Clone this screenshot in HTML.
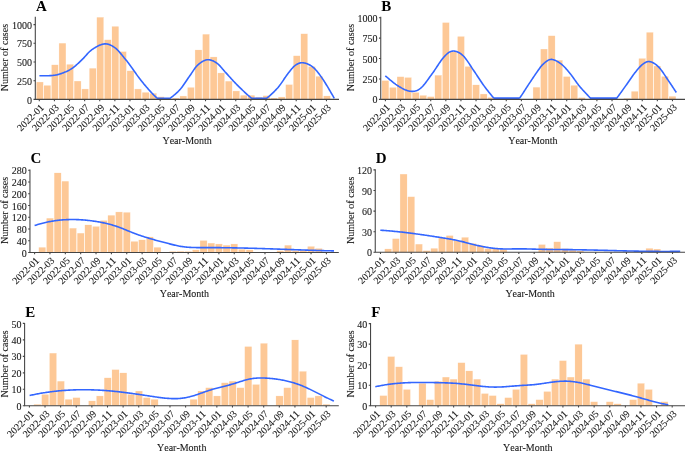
<!DOCTYPE html>
<html><head><meta charset="utf-8"><style>
html,body{margin:0;padding:0;background:#fff;width:685px;height:451px;overflow:hidden}
svg{display:block;font-family:"Liberation Serif",serif;font-kerning:none;will-change:transform}
</style></head><body><svg width="685" height="451" viewBox="0 0 685 451" font-family="Liberation Serif, serif"><g fill="#FDC896" stroke="#ffffff" stroke-width="0.3"><rect x="36.29" y="81.97" width="7.03" height="17.43"/><rect x="43.84" y="85.26" width="7.03" height="14.14"/><rect x="51.40" y="64.77" width="7.03" height="34.63"/><rect x="58.95" y="43.08" width="7.03" height="56.32"/><rect x="66.51" y="64.24" width="7.03" height="35.16"/><rect x="74.07" y="81.00" width="7.03" height="18.40"/><rect x="81.62" y="88.93" width="7.03" height="10.47"/><rect x="89.18" y="68.13" width="7.03" height="31.27"/><rect x="96.73" y="17.12" width="7.03" height="82.28"/><rect x="104.29" y="39.71" width="7.03" height="59.69"/><rect x="111.85" y="26.25" width="7.03" height="73.15"/><rect x="119.40" y="51.53" width="7.03" height="47.87"/><rect x="126.96" y="70.75" width="7.03" height="28.65"/><rect x="134.51" y="88.93" width="7.03" height="10.47"/><rect x="142.07" y="92.22" width="7.03" height="7.18"/><rect x="149.63" y="93.19" width="7.03" height="6.21"/><rect x="157.18" y="96.71" width="7.03" height="2.69"/><rect x="164.74" y="99.03" width="7.03" height="0.37"/><rect x="172.29" y="97.98" width="7.03" height="1.42"/><rect x="179.85" y="95.96" width="7.03" height="3.44"/><rect x="187.41" y="87.28" width="7.03" height="12.12"/><rect x="194.96" y="49.88" width="7.03" height="49.52"/><rect x="202.52" y="34.10" width="7.03" height="65.30"/><rect x="210.07" y="56.91" width="7.03" height="42.49"/><rect x="217.63" y="72.92" width="7.03" height="26.48"/><rect x="225.19" y="81.07" width="7.03" height="18.33"/><rect x="232.74" y="90.95" width="7.03" height="8.45"/><rect x="240.30" y="95.14" width="7.03" height="4.26"/><rect x="247.85" y="95.14" width="7.03" height="4.26"/><rect x="255.41" y="97.08" width="7.03" height="2.32"/><rect x="262.97" y="95.59" width="7.03" height="3.81"/><rect x="270.52" y="97.98" width="7.03" height="1.42"/><rect x="278.08" y="96.93" width="7.03" height="2.47"/><rect x="285.63" y="84.51" width="7.03" height="14.89"/><rect x="293.19" y="55.72" width="7.03" height="43.68"/><rect x="300.75" y="33.73" width="7.03" height="65.67"/><rect x="308.30" y="66.49" width="7.03" height="32.91"/><rect x="315.86" y="76.21" width="7.03" height="23.19"/><rect x="323.41" y="95.88" width="7.03" height="3.52"/></g><path d="M39.40,75.80 L39.68,75.79 L40.00,75.79 L40.36,75.78 L40.75,75.78 L41.18,75.78 L41.64,75.78 L42.12,75.78 L42.63,75.78 L43.16,75.77 L43.71,75.77 L44.28,75.77 L44.85,75.76 L45.45,75.76 L46.04,75.75 L46.65,75.74 L47.25,75.73 L47.86,75.72 L48.46,75.70 L49.06,75.68 L49.65,75.66 L50.23,75.64 L50.79,75.61 L51.34,75.58 L51.86,75.54 L52.37,75.50 L52.85,75.45 L53.30,75.40 L53.91,75.32 L54.50,75.24 L55.07,75.15 L55.62,75.05 L56.16,74.95 L56.68,74.85 L57.19,74.74 L57.69,74.62 L58.18,74.50 L58.66,74.37 L59.14,74.23 L59.61,74.09 L60.09,73.94 L60.56,73.78 L61.04,73.62 L61.52,73.45 L62.00,73.27 L62.50,73.09 L63.00,72.90 L63.51,72.70 L64.01,72.50 L64.52,72.30 L65.03,72.09 L65.53,71.88 L66.04,71.66 L66.54,71.43 L67.04,71.20 L67.55,70.95 L68.05,70.71 L68.56,70.45 L69.06,70.18 L69.56,69.90 L70.07,69.62 L70.57,69.32 L71.08,69.01 L71.59,68.68 L72.09,68.35 L72.60,68.00 L73.11,67.64 L73.62,67.26 L74.13,66.86 L74.64,66.45 L75.15,66.03 L75.66,65.60 L76.17,65.15 L76.68,64.70 L77.19,64.23 L77.71,63.76 L78.22,63.29 L78.73,62.81 L79.24,62.32 L79.75,61.84 L80.26,61.35 L80.77,60.86 L81.28,60.37 L81.79,59.88 L82.30,59.40 L82.80,58.91 L83.30,58.41 L83.79,57.89 L84.28,57.36 L84.76,56.83 L85.24,56.29 L85.72,55.74 L86.20,55.19 L86.68,54.65 L87.16,54.10 L87.65,53.57 L88.15,53.03 L88.65,52.51 L89.16,52.00 L89.68,51.51 L90.22,51.02 L90.76,50.56 L91.32,50.12 L91.90,49.70 L92.35,49.39 L92.81,49.08 L93.29,48.76 L93.77,48.45 L94.26,48.14 L94.76,47.83 L95.27,47.52 L95.78,47.22 L96.30,46.92 L96.82,46.63 L97.35,46.35 L97.88,46.08 L98.41,45.82 L98.94,45.57 L99.47,45.33 L99.99,45.11 L100.52,44.90 L101.04,44.71 L101.56,44.53 L102.07,44.38 L102.57,44.24 L103.07,44.12 L103.55,44.02 L104.03,43.95 L104.50,43.90 L105.05,43.87 L105.59,43.87 L106.12,43.89 L106.64,43.94 L107.16,44.01 L107.68,44.11 L108.19,44.23 L108.69,44.38 L109.19,44.54 L109.68,44.73 L110.18,44.93 L110.67,45.15 L111.15,45.39 L111.64,45.64 L112.12,45.91 L112.60,46.20 L113.08,46.50 L113.56,46.81 L114.04,47.13 L114.52,47.46 L115.00,47.80 L115.54,48.20 L116.08,48.65 L116.62,49.14 L117.17,49.66 L117.72,50.21 L118.27,50.78 L118.82,51.38 L119.37,51.99 L119.91,52.61 L120.44,53.23 L120.97,53.86 L121.48,54.49 L121.99,55.10 L122.48,55.71 L122.96,56.30 L123.42,56.87 L123.87,57.41 L124.29,57.92 L124.70,58.40 L125.39,59.20 L125.97,59.90 L126.47,60.51 L126.93,61.07 L127.35,61.62 L127.77,62.18 L128.23,62.79 L128.73,63.47 L129.31,64.27 L130.00,65.20 L130.41,65.75 L130.84,66.35 L131.29,66.98 L131.76,67.64 L132.24,68.32 L132.74,69.03 L133.25,69.76 L133.78,70.51 L134.31,71.27 L134.85,72.04 L135.40,72.81 L135.95,73.58 L136.49,74.35 L137.04,75.12 L137.59,75.87 L138.13,76.61 L138.66,77.33 L139.19,78.03 L139.70,78.70 L140.21,79.36 L140.72,80.02 L141.24,80.67 L141.76,81.32 L142.28,81.97 L142.80,82.61 L143.32,83.25 L143.84,83.89 L144.35,84.51 L144.87,85.13 L145.38,85.74 L145.89,86.34 L146.40,86.94 L146.90,87.52 L147.39,88.09 L147.88,88.65 L148.36,89.20 L148.84,89.73 L149.30,90.25 L149.88,90.89 L150.45,91.52 L151.01,92.13 L151.56,92.72 L152.11,93.30 L152.65,93.86 L153.18,94.41 L153.70,94.94 L154.22,95.46 L154.73,95.95 L155.23,96.44 L155.73,96.90 L156.23,97.35 L156.72,97.78 L157.20,98.20 L157.75,98.30 L158.28,98.30 L158.80,98.30 L159.31,98.30 L159.82,98.30 L160.31,98.30 L160.80,98.30 L161.29,98.30 L161.78,98.30 L162.27,98.30 L162.76,98.30 L163.25,98.30 L163.75,98.30 L164.24,98.30 L164.72,98.30 L165.19,98.30 L165.66,98.30 L166.12,98.30 L166.58,98.30 L167.05,98.30 L167.54,98.30 L168.04,98.30 L168.56,98.30 L169.11,98.30 L169.69,98.30 L170.30,98.20 L170.74,97.85 L171.20,97.48 L171.68,97.10 L172.17,96.71 L172.67,96.30 L173.19,95.89 L173.71,95.46 L174.25,95.01 L174.79,94.56 L175.33,94.09 L175.88,93.61 L176.43,93.11 L176.98,92.61 L177.53,92.09 L178.08,91.56 L178.62,91.01 L179.15,90.45 L179.68,89.88 L180.20,89.30 L180.71,88.69 L181.23,88.06 L181.75,87.40 L182.27,86.71 L182.79,86.00 L183.32,85.28 L183.84,84.54 L184.36,83.79 L184.87,83.04 L185.39,82.28 L185.90,81.52 L186.41,80.76 L186.91,80.01 L187.41,79.26 L187.90,78.53 L188.39,77.82 L188.87,77.12 L189.34,76.45 L189.80,75.80 L190.37,75.00 L190.92,74.20 L191.45,73.41 L191.96,72.63 L192.47,71.86 L192.96,71.10 L193.45,70.36 L193.95,69.64 L194.44,68.93 L194.93,68.24 L195.44,67.58 L195.95,66.94 L196.48,66.33 L197.03,65.75 L197.60,65.20 L198.06,64.78 L198.53,64.37 L199.01,63.96 L199.50,63.56 L200.00,63.17 L200.50,62.79 L201.00,62.43 L201.51,62.09 L202.02,61.76 L202.54,61.44 L203.06,61.15 L203.58,60.88 L204.10,60.64 L204.62,60.42 L205.14,60.22 L205.66,60.06 L206.18,59.92 L206.69,59.82 L207.20,59.75 L207.71,59.71 L208.22,59.71 L208.73,59.73 L209.25,59.78 L209.76,59.86 L210.28,59.97 L210.79,60.10 L211.31,60.25 L211.82,60.43 L212.34,60.63 L212.85,60.85 L213.37,61.09 L213.88,61.34 L214.39,61.62 L214.90,61.91 L215.40,62.21 L215.90,62.53 L216.40,62.86 L216.90,63.20 L217.42,63.58 L217.92,63.99 L218.42,64.42 L218.91,64.88 L219.40,65.36 L219.89,65.87 L220.37,66.39 L220.85,66.93 L221.33,67.48 L221.82,68.05 L222.31,68.64 L222.80,69.23 L223.31,69.83 L223.82,70.44 L224.35,71.05 L224.88,71.67 L225.43,72.28 L226.00,72.90 L226.45,73.39 L226.91,73.88 L227.37,74.39 L227.84,74.90 L228.31,75.43 L228.79,75.95 L229.27,76.49 L229.76,77.03 L230.25,77.57 L230.75,78.12 L231.25,78.68 L231.75,79.24 L232.26,79.79 L232.78,80.36 L233.30,80.92 L233.82,81.48 L234.35,82.05 L234.88,82.61 L235.41,83.17 L235.96,83.73 L236.50,84.29 L237.05,84.85 L237.60,85.40 L238.08,85.87 L238.57,86.36 L239.08,86.86 L239.59,87.36 L240.12,87.87 L240.65,88.39 L241.20,88.91 L241.74,89.43 L242.29,89.96 L242.85,90.49 L243.41,91.01 L243.96,91.53 L244.52,92.05 L245.07,92.57 L245.62,93.08 L246.17,93.58 L246.71,94.07 L247.24,94.55 L247.77,95.02 L248.28,95.48 L248.79,95.92 L249.28,96.35 L249.76,96.76 L250.22,97.15 L250.66,97.52 L251.09,97.87 L251.50,98.20 L252.19,98.30 L252.83,98.30 L253.43,98.30 L253.99,98.30 L254.51,98.30 L255.01,98.30 L255.48,98.30 L255.94,98.30 L256.39,98.30 L256.83,98.30 L257.27,98.30 L257.72,98.30 L258.18,98.30 L258.65,98.30 L259.15,98.30 L259.65,98.30 L260.14,98.30 L260.62,98.30 L261.09,98.30 L261.56,98.30 L262.03,98.30 L262.51,98.30 L262.99,98.30 L263.48,98.30 L263.98,98.30 L264.50,98.30 L265.04,98.30 L265.60,98.30 L266.18,98.30 L266.80,98.20 L267.24,97.85 L267.70,97.47 L268.17,97.08 L268.65,96.67 L269.15,96.24 L269.66,95.80 L270.18,95.34 L270.71,94.87 L271.24,94.38 L271.78,93.89 L272.32,93.38 L272.87,92.86 L273.41,92.34 L273.96,91.81 L274.50,91.27 L275.03,90.72 L275.57,90.17 L276.09,89.62 L276.61,89.07 L277.12,88.51 L277.62,87.96 L278.10,87.40 L278.65,86.74 L279.20,86.06 L279.74,85.36 L280.28,84.63 L280.82,83.89 L281.35,83.14 L281.88,82.38 L282.40,81.61 L282.92,80.85 L283.43,80.08 L283.94,79.32 L284.44,78.56 L284.94,77.82 L285.43,77.09 L285.92,76.38 L286.40,75.70 L286.87,75.03 L287.34,74.40 L287.80,73.80 L288.37,73.07 L288.93,72.36 L289.47,71.66 L290.00,70.99 L290.51,70.33 L291.02,69.70 L291.53,69.09 L292.02,68.51 L292.52,67.95 L293.01,67.42 L293.50,66.92 L293.99,66.44 L294.49,66.00 L294.99,65.58 L295.50,65.20 L296.01,64.85 L296.51,64.52 L297.01,64.22 L297.50,63.94 L297.99,63.69 L298.48,63.47 L298.98,63.28 L299.47,63.12 L299.98,62.98 L300.49,62.87 L301.00,62.80 L301.53,62.75 L302.07,62.74 L302.63,62.75 L303.20,62.80 L303.66,62.86 L304.14,62.93 L304.62,63.03 L305.11,63.14 L305.61,63.27 L306.12,63.41 L306.63,63.58 L307.15,63.76 L307.67,63.97 L308.19,64.19 L308.72,64.43 L309.25,64.69 L309.78,64.97 L310.30,65.28 L310.83,65.60 L311.35,65.94 L311.87,66.31 L312.39,66.69 L312.90,67.10 L313.40,67.53 L313.90,67.97 L314.40,68.44 L314.89,68.92 L315.38,69.43 L315.86,69.95 L316.35,70.49 L316.84,71.06 L317.32,71.64 L317.81,72.25 L318.31,72.88 L318.81,73.53 L319.31,74.20 L319.82,74.89 L320.34,75.61 L320.86,76.34 L321.40,77.11 L321.94,77.89 L322.50,78.70 L322.98,79.41 L323.49,80.18 L324.02,81.01 L324.57,81.88 L325.14,82.79 L325.72,83.74 L326.31,84.71 L326.91,85.70 L327.51,86.70 L328.11,87.71 L328.70,88.72 L329.29,89.72 L329.87,90.71 L330.44,91.68 L330.98,92.62 L331.51,93.52 L332.01,94.38 L332.48,95.20 L332.92,95.95 L333.33,96.65 L333.69,97.28 L334.02,97.83 L334.30,98.30" fill="none" stroke="#3366FF" stroke-width="1.6" stroke-linecap="butt" stroke-linejoin="round"/><path d="M35.30,16.70 V99.40 H339.00" fill="none" stroke="#444444" stroke-width="1.07"/><path d="M33.50,99.40H35.30M33.50,80.70H35.30M33.50,62.00H35.30M33.50,43.30H35.30M33.50,24.60H35.30M39.30,99.40V101.20M54.41,99.40V101.20M69.52,99.40V101.20M84.64,99.40V101.20M99.75,99.40V101.20M114.86,99.40V101.20M129.97,99.40V101.20M145.08,99.40V101.20M160.20,99.40V101.20M175.31,99.40V101.20M190.42,99.40V101.20M205.53,99.40V101.20M220.64,99.40V101.20M235.76,99.40V101.20M250.87,99.40V101.20M265.98,99.40V101.20M281.09,99.40V101.20M296.20,99.40V101.20M311.32,99.40V101.20M326.43,99.40V101.20" stroke="#444444" stroke-width="1.07" fill="none"/><g font-size="10" fill="#1a1a1a" stroke="#1a1a1a" stroke-width="0.1" text-anchor="end"><text x="32.10" y="103.50">0</text><text x="32.10" y="84.80">250</text><text x="32.10" y="66.10">500</text><text x="32.10" y="47.40">750</text><text x="32.10" y="28.70">1000</text></g><g font-size="10" fill="#1a1a1a" stroke="#1a1a1a" stroke-width="0.1" text-anchor="end"><text transform="translate(44.50,108.10) rotate(-45)">2022-01</text><text transform="translate(59.61,108.10) rotate(-45)">2022-03</text><text transform="translate(74.72,108.10) rotate(-45)">2022-05</text><text transform="translate(89.84,108.10) rotate(-45)">2022-07</text><text transform="translate(104.95,108.10) rotate(-45)">2022-09</text><text transform="translate(120.06,108.10) rotate(-45)">2022-11</text><text transform="translate(135.17,108.10) rotate(-45)">2023-01</text><text transform="translate(150.28,108.10) rotate(-45)">2023-03</text><text transform="translate(165.40,108.10) rotate(-45)">2023-05</text><text transform="translate(180.51,108.10) rotate(-45)">2023-07</text><text transform="translate(195.62,108.10) rotate(-45)">2023-09</text><text transform="translate(210.73,108.10) rotate(-45)">2023-11</text><text transform="translate(225.84,108.10) rotate(-45)">2024-01</text><text transform="translate(240.96,108.10) rotate(-45)">2024-03</text><text transform="translate(256.07,108.10) rotate(-45)">2024-05</text><text transform="translate(271.18,108.10) rotate(-45)">2024-07</text><text transform="translate(286.29,108.10) rotate(-45)">2024-09</text><text transform="translate(301.40,108.10) rotate(-45)">2024-11</text><text transform="translate(316.52,108.10) rotate(-45)">2025-01</text><text transform="translate(331.63,108.10) rotate(-45)">2025-03</text></g><text x="187.15" y="144.20" font-size="10" fill="#1a1a1a" stroke="#1a1a1a" stroke-width="0.1" text-anchor="middle">Year-Month</text><text transform="translate(8.00,57.55) rotate(-90)" font-size="10" fill="#1a1a1a" stroke="#1a1a1a" stroke-width="0.1" text-anchor="middle">Number of cases</text><text x="35.90" y="10.60" font-size="15" font-weight="bold" fill="#000">A</text><g fill="#FDC896" stroke="#ffffff" stroke-width="0.3"><rect x="381.89" y="80.50" width="7.03" height="18.85"/><rect x="389.44" y="87.35" width="7.03" height="12.00"/><rect x="397.00" y="76.67" width="7.03" height="22.68"/><rect x="404.55" y="77.40" width="7.03" height="21.95"/><rect x="412.10" y="92.33" width="7.03" height="7.02"/><rect x="419.66" y="95.27" width="7.03" height="4.08"/><rect x="427.21" y="96.58" width="7.03" height="2.77"/><rect x="434.77" y="75.11" width="7.03" height="24.24"/><rect x="442.32" y="22.48" width="7.03" height="76.87"/><rect x="449.87" y="51.86" width="7.03" height="47.49"/><rect x="457.43" y="36.35" width="7.03" height="63.00"/><rect x="464.98" y="66.38" width="7.03" height="32.97"/><rect x="472.54" y="84.83" width="7.03" height="14.52"/><rect x="480.09" y="93.96" width="7.03" height="5.39"/><rect x="487.64" y="97.39" width="7.03" height="1.96"/><rect x="532.97" y="87.11" width="7.03" height="12.24"/><rect x="540.52" y="49.00" width="7.03" height="50.35"/><rect x="548.08" y="35.70" width="7.03" height="63.65"/><rect x="555.63" y="60.10" width="7.03" height="39.25"/><rect x="563.18" y="76.50" width="7.03" height="22.85"/><rect x="570.74" y="85.23" width="7.03" height="14.12"/><rect x="578.29" y="97.55" width="7.03" height="1.80"/><rect x="623.62" y="98.29" width="7.03" height="1.06"/><rect x="631.17" y="91.19" width="7.03" height="8.16"/><rect x="638.72" y="58.31" width="7.03" height="41.04"/><rect x="646.28" y="32.19" width="7.03" height="67.16"/><rect x="653.83" y="65.98" width="7.03" height="33.37"/><rect x="661.39" y="76.34" width="7.03" height="23.01"/><rect x="668.94" y="96.17" width="7.03" height="3.18"/></g><path d="M385.30,75.80 L385.57,76.02 L385.88,76.28 L386.22,76.57 L386.60,76.89 L387.01,77.24 L387.44,77.61 L387.90,78.01 L388.39,78.43 L388.89,78.86 L389.42,79.31 L389.96,79.77 L390.51,80.24 L391.08,80.71 L391.65,81.18 L392.23,81.66 L392.81,82.13 L393.39,82.59 L393.98,83.04 L394.55,83.48 L395.13,83.91 L395.69,84.32 L396.24,84.70 L396.78,85.06 L397.30,85.40 L397.79,85.71 L398.29,86.02 L398.80,86.33 L399.30,86.64 L399.81,86.94 L400.33,87.25 L400.84,87.55 L401.36,87.84 L401.87,88.13 L402.39,88.41 L402.91,88.69 L403.43,88.95 L403.95,89.21 L404.46,89.45 L404.98,89.69 L405.49,89.91 L406.00,90.12 L406.50,90.31 L407.00,90.49 L407.50,90.66 L407.99,90.80 L408.48,90.93 L408.96,91.04 L409.43,91.13 L409.90,91.20 L410.45,91.26 L410.98,91.31 L411.51,91.34 L412.03,91.36 L412.54,91.36 L413.05,91.34 L413.54,91.31 L414.04,91.25 L414.53,91.17 L415.02,91.08 L415.51,90.96 L415.99,90.81 L416.48,90.64 L416.97,90.45 L417.46,90.23 L417.95,89.98 L418.45,89.70 L418.95,89.40 L419.46,89.06 L419.98,88.70 L420.50,88.30 L420.98,87.90 L421.47,87.47 L421.96,86.99 L422.46,86.49 L422.96,85.96 L423.46,85.39 L423.96,84.80 L424.46,84.19 L424.97,83.56 L425.48,82.90 L425.99,82.23 L426.50,81.55 L427.01,80.86 L427.52,80.15 L428.03,79.44 L428.54,78.73 L429.06,78.01 L429.57,77.29 L430.08,76.58 L430.58,75.87 L431.09,75.17 L431.60,74.48 L432.10,73.80 L432.60,73.12 L433.11,72.41 L433.62,71.68 L434.14,70.93 L434.65,70.17 L435.17,69.40 L435.69,68.62 L436.21,67.84 L436.73,67.05 L437.25,66.26 L437.76,65.48 L438.28,64.70 L438.79,63.93 L439.29,63.17 L439.80,62.43 L440.29,61.71 L440.79,61.01 L441.27,60.33 L441.76,59.68 L442.23,59.06 L442.69,58.47 L443.15,57.91 L443.60,57.40 L444.19,56.75 L444.76,56.13 L445.31,55.55 L445.84,55.00 L446.36,54.48 L446.87,54.00 L447.38,53.55 L447.87,53.14 L448.37,52.77 L448.86,52.43 L449.35,52.13 L449.85,51.86 L450.36,51.63 L450.87,51.44 L451.40,51.29 L451.94,51.18 L452.50,51.10 L452.99,51.07 L453.48,51.06 L453.97,51.07 L454.47,51.12 L454.98,51.19 L455.49,51.28 L456.00,51.41 L456.52,51.56 L457.04,51.73 L457.56,51.94 L458.09,52.17 L458.62,52.43 L459.15,52.71 L459.68,53.03 L460.22,53.37 L460.75,53.74 L461.29,54.14 L461.82,54.56 L462.36,55.02 L462.90,55.50 L463.39,55.98 L463.89,56.50 L464.39,57.06 L464.89,57.66 L465.40,58.29 L465.91,58.96 L466.43,59.65 L466.94,60.37 L467.46,61.10 L467.98,61.86 L468.49,62.62 L469.01,63.40 L469.52,64.19 L470.04,64.98 L470.55,65.77 L471.05,66.55 L471.56,67.33 L472.06,68.10 L472.55,68.85 L473.04,69.59 L473.52,70.31 L474.00,71.00 L474.54,71.79 L475.08,72.57 L475.61,73.36 L476.13,74.14 L476.65,74.92 L477.16,75.70 L477.67,76.47 L478.18,77.24 L478.68,78.01 L479.18,78.78 L479.68,79.53 L480.18,80.29 L480.68,81.04 L481.18,81.78 L481.68,82.52 L482.18,83.25 L482.68,83.97 L483.19,84.69 L483.70,85.40 L484.22,86.11 L484.74,86.82 L485.28,87.52 L485.81,88.23 L486.36,88.94 L486.90,89.64 L487.44,90.34 L487.99,91.03 L488.53,91.71 L489.07,92.39 L489.60,93.05 L490.13,93.70 L490.65,94.34 L491.15,94.96 L491.65,95.57 L492.14,96.15 L492.61,96.72 L493.06,97.27 L493.50,97.80 L494.11,98.10 L494.68,98.10 L495.22,98.10 L495.74,98.10 L496.24,98.10 L496.72,98.10 L497.18,98.10 L497.64,98.10 L498.10,98.10 L498.56,98.10 L499.03,98.10 L499.51,98.10 L500.00,98.10 L500.50,98.10 L501.01,98.10 L501.52,98.10 L502.03,98.10 L502.54,98.10 L503.05,98.10 L503.56,98.10 L504.07,98.10 L504.58,98.10 L505.09,98.10 L505.59,98.10 L506.10,98.10 L506.60,98.10 L507.14,98.10 L507.67,98.10 L508.20,98.10 L508.73,98.10 L509.26,98.10 L509.79,98.10 L510.32,98.10 L510.84,98.10 L511.38,98.10 L511.91,98.10 L512.45,98.10 L513.00,98.10 L513.51,98.10 L514.01,98.10 L514.51,98.10 L515.02,98.10 L515.52,98.10 L516.03,98.10 L516.54,98.10 L517.06,98.10 L517.59,98.10 L518.13,98.10 L518.67,98.10 L519.23,98.10 L519.80,97.80 L520.27,97.17 L520.75,96.51 L521.23,95.83 L521.72,95.11 L522.21,94.38 L522.71,93.62 L523.21,92.84 L523.72,92.05 L524.23,91.24 L524.75,90.42 L525.28,89.60 L525.81,88.76 L526.35,87.92 L526.89,87.08 L527.44,86.24 L528.00,85.40 L528.48,84.68 L528.98,83.93 L529.49,83.16 L530.01,82.37 L530.54,81.57 L531.09,80.75 L531.63,79.93 L532.18,79.11 L532.73,78.29 L533.27,77.47 L533.81,76.66 L534.35,75.86 L534.87,75.08 L535.39,74.33 L535.89,73.59 L536.37,72.89 L536.84,72.22 L537.28,71.59 L537.70,71.00 L538.37,70.06 L538.97,69.21 L539.51,68.44 L540.02,67.73 L540.49,67.08 L540.95,66.48 L541.42,65.91 L541.89,65.37 L542.38,64.84 L542.92,64.32 L543.50,63.80 L543.95,63.41 L544.42,63.01 L544.89,62.60 L545.36,62.20 L545.85,61.80 L546.35,61.42 L546.85,61.05 L547.36,60.71 L547.88,60.39 L548.41,60.11 L548.95,59.87 L549.50,59.67 L550.06,59.52 L550.62,59.43 L551.20,59.40 L551.66,59.42 L552.14,59.47 L552.63,59.55 L553.12,59.66 L553.63,59.80 L554.14,59.96 L554.65,60.15 L555.17,60.36 L555.70,60.60 L556.23,60.86 L556.76,61.13 L557.28,61.42 L557.81,61.73 L558.34,62.05 L558.86,62.38 L559.38,62.72 L559.89,63.07 L560.40,63.43 L560.90,63.80 L561.42,64.20 L561.93,64.62 L562.45,65.06 L562.95,65.52 L563.46,66.00 L563.96,66.49 L564.46,67.00 L564.96,67.53 L565.46,68.07 L565.95,68.62 L566.45,69.18 L566.95,69.76 L567.45,70.35 L567.96,70.94 L568.46,71.55 L568.97,72.16 L569.48,72.78 L570.00,73.40 L570.49,74.00 L570.98,74.63 L571.47,75.27 L571.97,75.93 L572.46,76.60 L572.95,77.28 L573.45,77.97 L573.94,78.67 L574.44,79.38 L574.94,80.09 L575.44,80.80 L575.95,81.52 L576.46,82.23 L576.97,82.94 L577.49,83.64 L578.01,84.33 L578.53,85.02 L579.06,85.69 L579.60,86.35 L580.09,86.94 L580.60,87.54 L581.12,88.14 L581.65,88.74 L582.19,89.33 L582.73,89.93 L583.28,90.53 L583.84,91.13 L584.39,91.72 L584.94,92.31 L585.49,92.89 L586.04,93.46 L586.57,94.03 L587.11,94.59 L587.63,95.14 L588.14,95.68 L588.63,96.21 L589.11,96.73 L589.58,97.23 L590.02,97.72 L590.45,98.10 L591.09,98.10 L591.70,98.10 L592.26,98.10 L592.78,98.10 L593.28,98.10 L593.76,98.10 L594.23,98.10 L594.68,98.10 L595.13,98.10 L595.58,98.10 L596.04,98.10 L596.51,98.10 L597.00,98.10 L597.50,98.10 L598.00,98.10 L598.50,98.10 L599.00,98.10 L599.50,98.10 L600.00,98.10 L600.50,98.10 L601.00,98.10 L601.50,98.10 L602.00,98.10 L602.50,98.10 L603.00,98.10 L603.50,98.10 L604.00,98.10 L604.50,98.10 L605.00,98.10 L605.49,98.10 L605.99,98.10 L606.49,98.10 L606.99,98.10 L607.49,98.10 L607.99,98.10 L608.49,98.10 L608.99,98.10 L609.49,98.10 L610.00,98.10 L610.50,98.10 L610.99,98.10 L611.48,98.10 L611.96,98.10 L612.44,98.10 L612.93,98.10 L613.42,98.10 L613.92,98.10 L614.44,98.10 L614.97,98.10 L615.52,98.10 L616.10,98.10 L616.70,98.10 L617.15,97.61 L617.62,97.00 L618.10,96.36 L618.59,95.71 L619.09,95.03 L619.60,94.33 L620.11,93.62 L620.64,92.89 L621.17,92.16 L621.70,91.41 L622.24,90.66 L622.78,89.90 L623.32,89.15 L623.86,88.39 L624.40,87.63 L624.94,86.88 L625.47,86.14 L626.00,85.40 L626.50,84.70 L627.01,83.98 L627.52,83.25 L628.03,82.51 L628.55,81.76 L629.07,81.00 L629.60,80.25 L630.12,79.49 L630.64,78.73 L631.16,77.98 L631.68,77.24 L632.19,76.51 L632.70,75.79 L633.20,75.08 L633.70,74.40 L634.19,73.74 L634.67,73.10 L635.14,72.48 L635.60,71.90 L636.17,71.19 L636.73,70.50 L637.28,69.84 L637.81,69.20 L638.34,68.58 L638.86,67.98 L639.37,67.41 L639.88,66.87 L640.38,66.35 L640.87,65.86 L641.36,65.39 L641.85,64.95 L642.33,64.54 L642.82,64.15 L643.30,63.80 L643.85,63.42 L644.38,63.07 L644.89,62.75 L645.40,62.47 L645.90,62.21 L646.39,62.00 L646.89,61.82 L647.39,61.69 L647.90,61.60 L648.42,61.55 L648.96,61.55 L649.52,61.60 L650.10,61.70 L650.56,61.81 L651.03,61.94 L651.50,62.10 L651.99,62.28 L652.48,62.49 L652.98,62.73 L653.48,62.99 L653.99,63.27 L654.51,63.58 L655.02,63.93 L655.55,64.29 L656.08,64.69 L656.61,65.11 L657.14,65.57 L657.68,66.05 L658.21,66.56 L658.75,67.10 L659.24,67.62 L659.73,68.19 L660.24,68.79 L660.75,69.44 L661.26,70.11 L661.78,70.82 L662.31,71.55 L662.83,72.29 L663.36,73.06 L663.88,73.83 L664.41,74.61 L664.93,75.40 L665.45,76.18 L665.96,76.96 L666.47,77.72 L666.96,78.47 L667.45,79.21 L667.93,79.92 L668.40,80.60 L668.99,81.46 L669.60,82.36 L670.22,83.27 L670.84,84.20 L671.46,85.13 L672.07,86.05 L672.66,86.95 L673.24,87.83 L673.79,88.67 L674.32,89.47 L674.81,90.22 L675.25,90.91 L675.66,91.52 L676.01,92.06 L676.30,92.50" fill="none" stroke="#3366FF" stroke-width="1.6" stroke-linecap="butt" stroke-linejoin="round"/><path d="M380.75,16.80 V99.35 H686.00" fill="none" stroke="#444444" stroke-width="1.07"/><path d="M378.95,99.35H380.75M378.95,78.95H380.75M378.95,58.55H380.75M378.95,38.15H380.75M378.95,17.75H380.75M385.40,99.35V101.15M400.51,99.35V101.15M415.62,99.35V101.15M430.72,99.35V101.15M445.83,99.35V101.15M460.94,99.35V101.15M476.05,99.35V101.15M491.16,99.35V101.15M506.26,99.35V101.15M521.37,99.35V101.15M536.48,99.35V101.15M551.59,99.35V101.15M566.70,99.35V101.15M581.80,99.35V101.15M596.91,99.35V101.15M612.02,99.35V101.15M627.13,99.35V101.15M642.24,99.35V101.15M657.34,99.35V101.15M672.45,99.35V101.15" stroke="#444444" stroke-width="1.07" fill="none"/><g font-size="10" fill="#1a1a1a" stroke="#1a1a1a" stroke-width="0.1" text-anchor="end"><text x="377.55" y="103.45">0</text><text x="377.55" y="83.05">250</text><text x="377.55" y="62.65">500</text><text x="377.55" y="42.25">750</text><text x="377.55" y="21.85">1000</text></g><g font-size="10" fill="#1a1a1a" stroke="#1a1a1a" stroke-width="0.1" text-anchor="end"><text transform="translate(390.60,108.05) rotate(-45)">2022-01</text><text transform="translate(405.71,108.05) rotate(-45)">2022-03</text><text transform="translate(420.82,108.05) rotate(-45)">2022-05</text><text transform="translate(435.92,108.05) rotate(-45)">2022-07</text><text transform="translate(451.03,108.05) rotate(-45)">2022-09</text><text transform="translate(466.14,108.05) rotate(-45)">2022-11</text><text transform="translate(481.25,108.05) rotate(-45)">2023-01</text><text transform="translate(496.36,108.05) rotate(-45)">2023-03</text><text transform="translate(511.46,108.05) rotate(-45)">2023-05</text><text transform="translate(526.57,108.05) rotate(-45)">2023-07</text><text transform="translate(541.68,108.05) rotate(-45)">2023-09</text><text transform="translate(556.79,108.05) rotate(-45)">2023-11</text><text transform="translate(571.90,108.05) rotate(-45)">2024-01</text><text transform="translate(587.00,108.05) rotate(-45)">2024-03</text><text transform="translate(602.11,108.05) rotate(-45)">2024-05</text><text transform="translate(617.22,108.05) rotate(-45)">2024-07</text><text transform="translate(632.33,108.05) rotate(-45)">2024-09</text><text transform="translate(647.44,108.05) rotate(-45)">2024-11</text><text transform="translate(662.54,108.05) rotate(-45)">2025-01</text><text transform="translate(677.65,108.05) rotate(-45)">2025-03</text></g><text x="532.88" y="144.15" font-size="10" fill="#1a1a1a" stroke="#1a1a1a" stroke-width="0.1" text-anchor="middle">Year-Month</text><text transform="translate(353.50,57.57) rotate(-90)" font-size="10" fill="#1a1a1a" stroke="#1a1a1a" stroke-width="0.1" text-anchor="middle">Number of cases</text><text x="381.35" y="10.70" font-size="15" font-weight="bold" fill="#000">B</text><g fill="#FDC896" stroke="#ffffff" stroke-width="0.3"><rect x="38.71" y="247.16" width="7.14" height="5.29"/><rect x="46.39" y="218.08" width="7.14" height="34.37"/><rect x="54.07" y="172.84" width="7.14" height="79.61"/><rect x="61.75" y="181.07" width="7.14" height="71.38"/><rect x="69.42" y="228.07" width="7.14" height="24.38"/><rect x="77.10" y="233.06" width="7.14" height="19.39"/><rect x="84.78" y="224.84" width="7.14" height="27.61"/><rect x="92.46" y="226.31" width="7.14" height="26.14"/><rect x="100.14" y="220.43" width="7.14" height="32.02"/><rect x="107.82" y="215.14" width="7.14" height="37.31"/><rect x="115.50" y="211.91" width="7.14" height="40.54"/><rect x="123.18" y="212.21" width="7.14" height="40.24"/><rect x="130.86" y="241.29" width="7.14" height="11.16"/><rect x="138.54" y="239.82" width="7.14" height="12.63"/><rect x="146.21" y="236.88" width="7.14" height="15.57"/><rect x="153.89" y="247.16" width="7.14" height="5.29"/><rect x="169.25" y="251.27" width="7.14" height="1.18"/><rect x="176.93" y="251.13" width="7.14" height="1.32"/><rect x="184.61" y="251.27" width="7.14" height="1.18"/><rect x="192.29" y="249.81" width="7.14" height="2.64"/><rect x="199.97" y="240.41" width="7.14" height="12.04"/><rect x="207.65" y="243.05" width="7.14" height="9.40"/><rect x="215.33" y="243.93" width="7.14" height="8.52"/><rect x="223.00" y="245.11" width="7.14" height="7.34"/><rect x="230.68" y="243.93" width="7.14" height="8.52"/><rect x="238.36" y="249.22" width="7.14" height="3.23"/><rect x="246.04" y="249.81" width="7.14" height="2.64"/><rect x="276.76" y="250.69" width="7.14" height="1.76"/><rect x="284.44" y="245.11" width="7.14" height="7.34"/><rect x="292.12" y="250.69" width="7.14" height="1.76"/><rect x="299.79" y="250.39" width="7.14" height="2.06"/><rect x="307.47" y="246.28" width="7.14" height="6.17"/><rect x="315.15" y="248.34" width="7.14" height="4.11"/></g><path d="M34.60,225.57 L35.60,225.24 L36.60,224.91 L37.60,224.60 L38.60,224.30 L39.60,224.01 L40.60,223.73 L41.60,223.45 L42.60,223.19 L43.60,222.94 L44.60,222.70 L45.60,222.46 L46.60,222.24 L47.60,222.03 L48.60,221.82 L49.60,221.63 L50.60,221.44 L51.60,221.26 L52.60,221.09 L53.60,220.93 L54.60,220.78 L55.60,220.64 L56.60,220.51 L57.60,220.39 L58.60,220.27 L59.60,220.16 L60.60,220.07 L61.60,219.98 L62.60,219.90 L63.60,219.82 L64.60,219.76 L65.60,219.70 L66.60,219.65 L67.60,219.61 L68.60,219.58 L69.60,219.55 L70.60,219.53 L71.60,219.53 L72.60,219.52 L73.60,219.53 L74.60,219.54 L75.60,219.56 L76.60,219.59 L77.60,219.62 L78.60,219.67 L79.60,219.72 L80.60,219.77 L81.60,219.83 L82.60,219.90 L83.60,219.98 L84.60,220.06 L85.60,220.15 L86.60,220.25 L87.60,220.35 L88.60,220.46 L89.60,220.58 L90.60,220.70 L91.60,220.83 L92.60,220.97 L93.60,221.11 L94.60,221.25 L95.60,221.41 L96.60,221.56 L97.60,221.73 L98.60,221.90 L99.60,222.08 L100.60,222.26 L101.60,222.45 L102.60,222.65 L103.60,222.86 L104.60,223.07 L105.60,223.30 L106.60,223.53 L107.60,223.77 L108.60,224.02 L109.60,224.28 L110.60,224.55 L111.60,224.82 L112.60,225.11 L113.60,225.41 L114.60,225.72 L115.60,226.04 L116.60,226.37 L117.60,226.71 L118.60,227.07 L119.60,227.43 L120.60,227.81 L121.60,228.20 L122.60,228.60 L123.60,229.01 L124.60,229.42 L125.60,229.83 L126.60,230.24 L127.60,230.66 L128.60,231.07 L129.60,231.47 L130.60,231.87 L131.60,232.26 L132.60,232.65 L133.60,233.04 L134.60,233.42 L135.60,233.79 L136.60,234.16 L137.60,234.52 L138.60,234.88 L139.60,235.23 L140.60,235.58 L141.60,235.92 L142.60,236.25 L143.60,236.58 L144.60,236.90 L145.60,237.22 L146.60,237.53 L147.60,237.84 L148.60,238.14 L149.60,238.44 L150.60,238.73 L151.60,239.02 L152.60,239.31 L153.60,239.59 L154.60,239.87 L155.60,240.15 L156.60,240.42 L157.60,240.69 L158.60,240.96 L159.60,241.23 L160.60,241.50 L161.60,241.76 L162.60,242.02 L163.60,242.29 L164.60,242.55 L165.60,242.81 L166.60,243.07 L167.60,243.33 L168.60,243.59 L169.60,243.86 L170.60,244.11 L171.60,244.37 L172.60,244.62 L173.60,244.87 L174.60,245.11 L175.60,245.34 L176.60,245.56 L177.60,245.77 L178.60,245.98 L179.60,246.17 L180.60,246.34 L181.60,246.50 L182.60,246.65 L183.60,246.78 L184.60,246.91 L185.60,247.01 L186.60,247.11 L187.60,247.20 L188.60,247.27 L189.60,247.34 L190.60,247.40 L191.60,247.44 L192.60,247.49 L193.60,247.52 L194.60,247.55 L195.60,247.57 L196.60,247.58 L197.60,247.60 L198.60,247.60 L199.60,247.61 L200.60,247.61 L201.60,247.61 L202.60,247.61 L203.60,247.61 L204.60,247.60 L205.60,247.60 L206.60,247.60 L207.60,247.60 L208.60,247.60 L209.60,247.60 L210.60,247.61 L211.60,247.61 L212.60,247.61 L213.60,247.62 L214.60,247.62 L215.60,247.63 L216.60,247.64 L217.60,247.64 L218.60,247.65 L219.60,247.66 L220.60,247.67 L221.60,247.68 L222.60,247.69 L223.60,247.70 L224.60,247.72 L225.60,247.73 L226.60,247.74 L227.60,247.76 L228.60,247.77 L229.60,247.79 L230.60,247.80 L231.60,247.82 L232.60,247.84 L233.60,247.86 L234.60,247.87 L235.60,247.89 L236.60,247.91 L237.60,247.93 L238.60,247.95 L239.60,247.98 L240.60,248.00 L241.60,248.02 L242.60,248.04 L243.60,248.07 L244.60,248.09 L245.60,248.11 L246.60,248.14 L247.60,248.16 L248.60,248.19 L249.60,248.22 L250.60,248.24 L251.60,248.27 L252.60,248.30 L253.60,248.32 L254.60,248.35 L255.60,248.38 L256.60,248.41 L257.60,248.44 L258.60,248.47 L259.60,248.50 L260.60,248.53 L261.60,248.56 L262.60,248.59 L263.60,248.62 L264.60,248.65 L265.60,248.69 L266.60,248.72 L267.60,248.75 L268.60,248.78 L269.60,248.82 L270.60,248.85 L271.60,248.88 L272.60,248.92 L273.60,248.95 L274.60,248.99 L275.60,249.02 L276.60,249.06 L277.60,249.09 L278.60,249.13 L279.60,249.16 L280.60,249.20 L281.60,249.23 L282.60,249.27 L283.60,249.31 L284.60,249.34 L285.60,249.38 L286.60,249.41 L287.60,249.45 L288.60,249.49 L289.60,249.52 L290.60,249.56 L291.60,249.60 L292.60,249.63 L293.60,249.67 L294.60,249.71 L295.60,249.74 L296.60,249.78 L297.60,249.81 L298.60,249.85 L299.60,249.89 L300.60,249.92 L301.60,249.96 L302.60,249.99 L303.60,250.03 L304.60,250.06 L305.60,250.10 L306.60,250.13 L307.60,250.17 L308.60,250.20 L309.60,250.23 L310.60,250.27 L311.60,250.30 L312.60,250.33 L313.60,250.36 L314.60,250.39 L315.60,250.42 L316.60,250.45 L317.60,250.48 L318.60,250.51 L319.60,250.54 L320.60,250.57 L321.60,250.60 L322.60,250.63 L323.60,250.65 L324.60,250.68 L325.60,250.71 L326.60,250.73 L327.60,250.76 L328.60,250.78 L329.60,250.80 L330.60,250.82 L331.60,250.85 L332.60,250.87 L333.60,250.89 L334.00,250.89" fill="none" stroke="#3366FF" stroke-width="1.6" stroke-linecap="butt" stroke-linejoin="round"/><path d="M29.95,169.50 V252.45 H338.80" fill="none" stroke="#444444" stroke-width="1.07"/><path d="M28.15,252.45H29.95M28.15,240.70H29.95M28.15,228.95H29.95M28.15,217.20H29.95M28.15,205.45H29.95M28.15,193.70H29.95M28.15,181.95H29.95M28.15,170.20H29.95M34.60,252.45V254.25M49.96,252.45V254.25M65.32,252.45V254.25M80.67,252.45V254.25M96.03,252.45V254.25M111.39,252.45V254.25M126.75,252.45V254.25M142.11,252.45V254.25M157.46,252.45V254.25M172.82,252.45V254.25M188.18,252.45V254.25M203.54,252.45V254.25M218.90,252.45V254.25M234.25,252.45V254.25M249.61,252.45V254.25M264.97,252.45V254.25M280.33,252.45V254.25M295.69,252.45V254.25M311.04,252.45V254.25M326.40,252.45V254.25" stroke="#444444" stroke-width="1.07" fill="none"/><g font-size="10" fill="#1a1a1a" stroke="#1a1a1a" stroke-width="0.1" text-anchor="end"><text x="26.75" y="256.55">0</text><text x="26.75" y="244.80">40</text><text x="26.75" y="233.05">80</text><text x="26.75" y="221.30">120</text><text x="26.75" y="209.55">160</text><text x="26.75" y="197.80">200</text><text x="26.75" y="186.05">240</text><text x="26.75" y="174.30">280</text></g><g font-size="10" fill="#1a1a1a" stroke="#1a1a1a" stroke-width="0.1" text-anchor="end"><text transform="translate(39.80,261.15) rotate(-45)">2022-01</text><text transform="translate(55.16,261.15) rotate(-45)">2022-03</text><text transform="translate(70.52,261.15) rotate(-45)">2022-05</text><text transform="translate(85.87,261.15) rotate(-45)">2022-07</text><text transform="translate(101.23,261.15) rotate(-45)">2022-09</text><text transform="translate(116.59,261.15) rotate(-45)">2022-11</text><text transform="translate(131.95,261.15) rotate(-45)">2023-01</text><text transform="translate(147.31,261.15) rotate(-45)">2023-03</text><text transform="translate(162.66,261.15) rotate(-45)">2023-05</text><text transform="translate(178.02,261.15) rotate(-45)">2023-07</text><text transform="translate(193.38,261.15) rotate(-45)">2023-09</text><text transform="translate(208.74,261.15) rotate(-45)">2023-11</text><text transform="translate(224.10,261.15) rotate(-45)">2024-01</text><text transform="translate(239.45,261.15) rotate(-45)">2024-03</text><text transform="translate(254.81,261.15) rotate(-45)">2024-05</text><text transform="translate(270.17,261.15) rotate(-45)">2024-07</text><text transform="translate(285.53,261.15) rotate(-45)">2024-09</text><text transform="translate(300.89,261.15) rotate(-45)">2024-11</text><text transform="translate(316.24,261.15) rotate(-45)">2025-01</text><text transform="translate(331.60,261.15) rotate(-45)">2025-03</text></g><text x="184.38" y="297.25" font-size="10" fill="#1a1a1a" stroke="#1a1a1a" stroke-width="0.1" text-anchor="middle">Year-Month</text><text transform="translate(8.00,210.47) rotate(-90)" font-size="10" fill="#1a1a1a" stroke="#1a1a1a" stroke-width="0.1" text-anchor="middle">Number of cases</text><text x="30.55" y="163.40" font-size="15" font-weight="bold" fill="#000">C</text><g fill="#FDC896" stroke="#ffffff" stroke-width="0.3"><rect x="384.61" y="248.87" width="7.15" height="3.43"/><rect x="392.30" y="238.57" width="7.15" height="13.73"/><rect x="399.98" y="174.02" width="7.15" height="78.28"/><rect x="407.67" y="196.68" width="7.15" height="55.62"/><rect x="415.35" y="244.06" width="7.15" height="8.24"/><rect x="423.04" y="250.58" width="7.15" height="1.72"/><rect x="430.72" y="248.18" width="7.15" height="4.12"/><rect x="438.41" y="237.88" width="7.15" height="14.42"/><rect x="446.09" y="235.48" width="7.15" height="16.82"/><rect x="453.78" y="240.63" width="7.15" height="11.67"/><rect x="461.46" y="237.19" width="7.15" height="15.11"/><rect x="469.15" y="243.37" width="7.15" height="8.93"/><rect x="476.83" y="245.43" width="7.15" height="6.87"/><rect x="484.52" y="248.52" width="7.15" height="3.78"/><rect x="492.20" y="248.52" width="7.15" height="3.78"/><rect x="499.89" y="249.28" width="7.15" height="3.02"/><rect x="538.31" y="244.47" width="7.15" height="7.83"/><rect x="546.00" y="247.97" width="7.15" height="4.33"/><rect x="553.68" y="241.73" width="7.15" height="10.57"/><rect x="561.37" y="248.52" width="7.15" height="3.78"/><rect x="569.05" y="250.10" width="7.15" height="2.20"/><rect x="576.74" y="250.93" width="7.15" height="1.37"/><rect x="645.90" y="248.18" width="7.15" height="4.12"/><rect x="653.59" y="249.00" width="7.15" height="3.30"/></g><path d="M380.30,230.21 L381.30,230.27 L382.30,230.34 L383.30,230.41 L384.30,230.48 L385.30,230.55 L386.30,230.63 L387.30,230.71 L388.30,230.79 L389.30,230.88 L390.30,230.96 L391.30,231.05 L392.30,231.14 L393.30,231.23 L394.30,231.33 L395.30,231.43 L396.30,231.53 L397.30,231.63 L398.30,231.73 L399.30,231.84 L400.30,231.95 L401.30,232.06 L402.30,232.17 L403.30,232.28 L404.30,232.40 L405.30,232.52 L406.30,232.63 L407.30,232.76 L408.30,232.88 L409.30,233.00 L410.30,233.13 L411.30,233.26 L412.30,233.38 L413.30,233.52 L414.30,233.65 L415.30,233.78 L416.30,233.92 L417.30,234.05 L418.30,234.19 L419.30,234.33 L420.30,234.47 L421.30,234.61 L422.30,234.75 L423.30,234.90 L424.30,235.04 L425.30,235.19 L426.30,235.33 L427.30,235.48 L428.30,235.63 L429.30,235.78 L430.30,235.93 L431.30,236.08 L432.30,236.24 L433.30,236.39 L434.30,236.54 L435.30,236.70 L436.30,236.85 L437.30,237.01 L438.30,237.16 L439.30,237.32 L440.30,237.48 L441.30,237.63 L442.30,237.79 L443.30,237.95 L444.30,238.11 L445.30,238.28 L446.30,238.44 L447.30,238.61 L448.30,238.78 L449.30,238.95 L450.30,239.13 L451.30,239.31 L452.30,239.49 L453.30,239.68 L454.30,239.87 L455.30,240.07 L456.30,240.28 L457.30,240.49 L458.30,240.70 L459.30,240.93 L460.30,241.16 L461.30,241.39 L462.30,241.64 L463.30,241.89 L464.30,242.14 L465.30,242.40 L466.30,242.66 L467.30,242.92 L468.30,243.18 L469.30,243.44 L470.30,243.70 L471.30,243.96 L472.30,244.21 L473.30,244.46 L474.30,244.71 L475.30,244.95 L476.30,245.19 L477.30,245.42 L478.30,245.65 L479.30,245.87 L480.30,246.09 L481.30,246.30 L482.30,246.50 L483.30,246.70 L484.30,246.89 L485.30,247.07 L486.30,247.25 L487.30,247.41 L488.30,247.57 L489.30,247.73 L490.30,247.87 L491.30,248.01 L492.30,248.14 L493.30,248.26 L494.30,248.37 L495.30,248.47 L496.30,248.56 L497.30,248.64 L498.30,248.72 L499.30,248.78 L500.30,248.83 L501.30,248.87 L502.30,248.91 L503.30,248.93 L504.30,248.95 L505.30,248.96 L506.30,248.97 L507.30,248.97 L508.30,248.96 L509.30,248.95 L510.30,248.94 L511.30,248.93 L512.30,248.92 L513.30,248.90 L514.30,248.89 L515.30,248.87 L516.30,248.86 L517.30,248.85 L518.30,248.84 L519.30,248.84 L520.30,248.84 L521.30,248.85 L522.30,248.86 L523.30,248.87 L524.30,248.88 L525.30,248.90 L526.30,248.92 L527.30,248.94 L528.30,248.97 L529.30,249.00 L530.30,249.02 L531.30,249.05 L532.30,249.08 L533.30,249.11 L534.30,249.14 L535.30,249.17 L536.30,249.20 L537.30,249.23 L538.30,249.25 L539.30,249.28 L540.30,249.30 L541.30,249.32 L542.30,249.34 L543.30,249.36 L544.30,249.38 L545.30,249.40 L546.30,249.41 L547.30,249.43 L548.30,249.44 L549.30,249.46 L550.30,249.47 L551.30,249.48 L552.30,249.49 L553.30,249.50 L554.30,249.51 L555.30,249.52 L556.30,249.52 L557.30,249.53 L558.30,249.54 L559.30,249.55 L560.30,249.56 L561.30,249.56 L562.30,249.57 L563.30,249.58 L564.30,249.59 L565.30,249.60 L566.30,249.60 L567.30,249.61 L568.30,249.62 L569.30,249.63 L570.30,249.64 L571.30,249.66 L572.30,249.67 L573.30,249.68 L574.30,249.70 L575.30,249.71 L576.30,249.73 L577.30,249.74 L578.30,249.76 L579.30,249.77 L580.30,249.79 L581.30,249.81 L582.30,249.83 L583.30,249.85 L584.30,249.87 L585.30,249.89 L586.30,249.91 L587.30,249.93 L588.30,249.95 L589.30,249.97 L590.30,250.00 L591.30,250.02 L592.30,250.04 L593.30,250.06 L594.30,250.09 L595.30,250.11 L596.30,250.14 L597.30,250.16 L598.30,250.19 L599.30,250.21 L600.30,250.24 L601.30,250.26 L602.30,250.29 L603.30,250.31 L604.30,250.34 L605.30,250.36 L606.30,250.39 L607.30,250.42 L608.30,250.44 L609.30,250.47 L610.30,250.49 L611.30,250.52 L612.30,250.55 L613.30,250.57 L614.30,250.60 L615.30,250.63 L616.30,250.65 L617.30,250.68 L618.30,250.70 L619.30,250.73 L620.30,250.75 L621.30,250.78 L622.30,250.80 L623.30,250.83 L624.30,250.85 L625.30,250.88 L626.30,250.90 L627.30,250.93 L628.30,250.95 L629.30,250.97 L630.30,251.00 L631.30,251.02 L632.30,251.04 L633.30,251.06 L634.30,251.08 L635.30,251.10 L636.30,251.12 L637.30,251.14 L638.30,251.16 L639.30,251.18 L640.30,251.20 L641.30,251.22 L642.30,251.24 L643.30,251.25 L644.30,251.27 L645.30,251.28 L646.30,251.30 L647.30,251.31 L648.30,251.33 L649.30,251.34 L650.30,251.35 L651.30,251.36 L652.30,251.37 L653.30,251.38 L654.30,251.39 L655.30,251.40 L656.30,251.41 L657.30,251.42 L658.30,251.42 L659.30,251.43 L660.30,251.43 L661.30,251.43 L662.30,251.44 L663.30,251.44 L664.30,251.44 L665.30,251.44 L666.30,251.44 L667.30,251.43 L668.30,251.43 L669.30,251.43 L670.30,251.42 L671.30,251.41 L672.30,251.40 L673.30,251.40 L674.30,251.39 L675.30,251.37 L676.30,251.36 L677.30,251.35 L678.30,251.33 L679.30,251.32 L680.20,251.30" fill="none" stroke="#3366FF" stroke-width="1.6" stroke-linecap="butt" stroke-linejoin="round"/><path d="M375.25,169.30 V252.30 H686.00" fill="none" stroke="#444444" stroke-width="1.07"/><path d="M373.45,252.30H375.25M373.45,231.70H375.25M373.45,211.10H375.25M373.45,190.50H375.25M373.45,169.90H375.25M380.50,252.30V254.10M395.87,252.30V254.10M411.24,252.30V254.10M426.61,252.30V254.10M441.98,252.30V254.10M457.35,252.30V254.10M472.72,252.30V254.10M488.09,252.30V254.10M503.46,252.30V254.10M518.83,252.30V254.10M534.20,252.30V254.10M549.57,252.30V254.10M564.94,252.30V254.10M580.31,252.30V254.10M595.68,252.30V254.10M611.05,252.30V254.10M626.42,252.30V254.10M641.79,252.30V254.10M657.16,252.30V254.10M672.53,252.30V254.10" stroke="#444444" stroke-width="1.07" fill="none"/><g font-size="10" fill="#1a1a1a" stroke="#1a1a1a" stroke-width="0.1" text-anchor="end"><text x="372.05" y="256.40">0</text><text x="372.05" y="235.80">30</text><text x="372.05" y="215.20">60</text><text x="372.05" y="194.60">90</text><text x="372.05" y="174.00">120</text></g><g font-size="10" fill="#1a1a1a" stroke="#1a1a1a" stroke-width="0.1" text-anchor="end"><text transform="translate(385.70,261.00) rotate(-45)">2022-01</text><text transform="translate(401.07,261.00) rotate(-45)">2022-03</text><text transform="translate(416.44,261.00) rotate(-45)">2022-05</text><text transform="translate(431.81,261.00) rotate(-45)">2022-07</text><text transform="translate(447.18,261.00) rotate(-45)">2022-09</text><text transform="translate(462.55,261.00) rotate(-45)">2022-11</text><text transform="translate(477.92,261.00) rotate(-45)">2023-01</text><text transform="translate(493.29,261.00) rotate(-45)">2023-03</text><text transform="translate(508.66,261.00) rotate(-45)">2023-05</text><text transform="translate(524.03,261.00) rotate(-45)">2023-07</text><text transform="translate(539.40,261.00) rotate(-45)">2023-09</text><text transform="translate(554.77,261.00) rotate(-45)">2023-11</text><text transform="translate(570.14,261.00) rotate(-45)">2024-01</text><text transform="translate(585.51,261.00) rotate(-45)">2024-03</text><text transform="translate(600.88,261.00) rotate(-45)">2024-05</text><text transform="translate(616.25,261.00) rotate(-45)">2024-07</text><text transform="translate(631.62,261.00) rotate(-45)">2024-09</text><text transform="translate(646.99,261.00) rotate(-45)">2024-11</text><text transform="translate(662.36,261.00) rotate(-45)">2025-01</text><text transform="translate(677.73,261.00) rotate(-45)">2025-03</text></g><text x="530.12" y="297.10" font-size="10" fill="#1a1a1a" stroke="#1a1a1a" stroke-width="0.1" text-anchor="middle">Year-Month</text><text transform="translate(353.50,210.30) rotate(-90)" font-size="10" fill="#1a1a1a" stroke="#1a1a1a" stroke-width="0.1" text-anchor="middle">Number of cases</text><text x="375.85" y="163.20" font-size="15" font-weight="bold" fill="#000">D</text><g fill="#FDC896" stroke="#ffffff" stroke-width="0.3"><rect x="33.78" y="404.15" width="7.26" height="1.65"/><rect x="41.59" y="394.26" width="7.26" height="11.54"/><rect x="49.40" y="353.06" width="7.26" height="52.74"/><rect x="57.21" y="381.08" width="7.26" height="24.72"/><rect x="65.02" y="399.21" width="7.26" height="6.59"/><rect x="72.83" y="397.56" width="7.26" height="8.24"/><rect x="88.45" y="400.86" width="7.26" height="4.94"/><rect x="96.26" y="395.91" width="7.26" height="9.89"/><rect x="104.07" y="377.78" width="7.26" height="28.02"/><rect x="111.88" y="369.54" width="7.26" height="36.26"/><rect x="119.69" y="372.84" width="7.26" height="32.96"/><rect x="127.50" y="394.26" width="7.26" height="11.54"/><rect x="135.31" y="390.97" width="7.26" height="14.83"/><rect x="143.12" y="397.56" width="7.26" height="8.24"/><rect x="150.93" y="399.21" width="7.26" height="6.59"/><rect x="189.98" y="399.21" width="7.26" height="6.59"/><rect x="197.79" y="390.97" width="7.26" height="14.83"/><rect x="205.60" y="387.67" width="7.26" height="18.13"/><rect x="213.41" y="395.91" width="7.26" height="9.89"/><rect x="221.22" y="382.73" width="7.26" height="23.07"/><rect x="229.03" y="381.08" width="7.26" height="24.72"/><rect x="236.84" y="387.67" width="7.26" height="18.13"/><rect x="244.65" y="346.47" width="7.26" height="59.33"/><rect x="252.46" y="384.38" width="7.26" height="21.42"/><rect x="260.27" y="343.18" width="7.26" height="62.62"/><rect x="275.89" y="395.91" width="7.26" height="9.89"/><rect x="283.70" y="387.67" width="7.26" height="18.13"/><rect x="291.51" y="339.88" width="7.26" height="65.92"/><rect x="299.32" y="371.19" width="7.26" height="34.61"/><rect x="307.13" y="397.56" width="7.26" height="8.24"/><rect x="314.94" y="395.91" width="7.26" height="9.89"/><rect x="322.75" y="404.15" width="7.26" height="1.65"/></g><path d="M29.60,395.51 L30.60,395.29 L31.60,395.08 L32.60,394.86 L33.60,394.66 L34.60,394.45 L35.60,394.26 L36.60,394.06 L37.60,393.87 L38.60,393.69 L39.60,393.51 L40.60,393.33 L41.60,393.16 L42.60,392.99 L43.60,392.83 L44.60,392.67 L45.60,392.52 L46.60,392.37 L47.60,392.23 L48.60,392.09 L49.60,391.95 L50.60,391.82 L51.60,391.69 L52.60,391.57 L53.60,391.45 L54.60,391.33 L55.60,391.22 L56.60,391.11 L57.60,391.01 L58.60,390.91 L59.60,390.82 L60.60,390.73 L61.60,390.64 L62.60,390.56 L63.60,390.48 L64.60,390.40 L65.60,390.33 L66.60,390.27 L67.60,390.20 L68.60,390.15 L69.60,390.09 L70.60,390.04 L71.60,389.99 L72.60,389.95 L73.60,389.91 L74.60,389.87 L75.60,389.84 L76.60,389.81 L77.60,389.79 L78.60,389.77 L79.60,389.75 L80.60,389.74 L81.60,389.73 L82.60,389.72 L83.60,389.72 L84.60,389.72 L85.60,389.73 L86.60,389.74 L87.60,389.75 L88.60,389.76 L89.60,389.78 L90.60,389.80 L91.60,389.83 L92.60,389.86 L93.60,389.89 L94.60,389.93 L95.60,389.97 L96.60,390.01 L97.60,390.06 L98.60,390.11 L99.60,390.16 L100.60,390.22 L101.60,390.28 L102.60,390.34 L103.60,390.41 L104.60,390.47 L105.60,390.55 L106.60,390.62 L107.60,390.70 L108.60,390.78 L109.60,390.87 L110.60,390.96 L111.60,391.05 L112.60,391.14 L113.60,391.24 L114.60,391.34 L115.60,391.44 L116.60,391.55 L117.60,391.65 L118.60,391.76 L119.60,391.88 L120.60,391.99 L121.60,392.11 L122.60,392.23 L123.60,392.35 L124.60,392.47 L125.60,392.60 L126.60,392.73 L127.60,392.86 L128.60,392.99 L129.60,393.12 L130.60,393.26 L131.60,393.39 L132.60,393.53 L133.60,393.67 L134.60,393.81 L135.60,393.95 L136.60,394.09 L137.60,394.24 L138.60,394.38 L139.60,394.53 L140.60,394.67 L141.60,394.82 L142.60,394.97 L143.60,395.12 L144.60,395.27 L145.60,395.42 L146.60,395.57 L147.60,395.72 L148.60,395.87 L149.60,396.02 L150.60,396.17 L151.60,396.32 L152.60,396.47 L153.60,396.62 L154.60,396.77 L155.60,396.92 L156.60,397.07 L157.60,397.21 L158.60,397.35 L159.60,397.48 L160.60,397.61 L161.60,397.74 L162.60,397.86 L163.60,397.97 L164.60,398.08 L165.60,398.18 L166.60,398.27 L167.60,398.35 L168.60,398.42 L169.60,398.49 L170.60,398.54 L171.60,398.58 L172.60,398.61 L173.60,398.63 L174.60,398.64 L175.60,398.63 L176.60,398.61 L177.60,398.58 L178.60,398.53 L179.60,398.46 L180.60,398.38 L181.60,398.28 L182.60,398.17 L183.60,398.04 L184.60,397.89 L185.60,397.72 L186.60,397.53 L187.60,397.32 L188.60,397.09 L189.60,396.85 L190.60,396.58 L191.60,396.31 L192.60,396.02 L193.60,395.71 L194.60,395.40 L195.60,395.08 L196.60,394.74 L197.60,394.41 L198.60,394.06 L199.60,393.71 L200.60,393.36 L201.60,393.00 L202.60,392.65 L203.60,392.29 L204.60,391.94 L205.60,391.59 L206.60,391.24 L207.60,390.90 L208.60,390.57 L209.60,390.24 L210.60,389.93 L211.60,389.62 L212.60,389.32 L213.60,389.03 L214.60,388.75 L215.60,388.48 L216.60,388.21 L217.60,387.95 L218.60,387.69 L219.60,387.43 L220.60,387.18 L221.60,386.93 L222.60,386.68 L223.60,386.43 L224.60,386.17 L225.60,385.92 L226.60,385.67 L227.60,385.41 L228.60,385.15 L229.60,384.88 L230.60,384.61 L231.60,384.33 L232.60,384.04 L233.60,383.75 L234.60,383.45 L235.60,383.13 L236.60,382.82 L237.60,382.49 L238.60,382.17 L239.60,381.84 L240.60,381.52 L241.60,381.20 L242.60,380.89 L243.60,380.58 L244.60,380.29 L245.60,380.01 L246.60,379.74 L247.60,379.49 L248.60,379.26 L249.60,379.05 L250.60,378.86 L251.60,378.69 L252.60,378.54 L253.60,378.40 L254.60,378.29 L255.60,378.19 L256.60,378.11 L257.60,378.05 L258.60,378.01 L259.60,377.98 L260.60,377.97 L261.60,377.97 L262.60,377.99 L263.60,378.01 L264.60,378.05 L265.60,378.10 L266.60,378.16 L267.60,378.22 L268.60,378.29 L269.60,378.37 L270.60,378.45 L271.60,378.55 L272.60,378.65 L273.60,378.75 L274.60,378.87 L275.60,378.99 L276.60,379.13 L277.60,379.27 L278.60,379.42 L279.60,379.58 L280.60,379.74 L281.60,379.92 L282.60,380.10 L283.60,380.30 L284.60,380.50 L285.60,380.72 L286.60,380.94 L287.60,381.18 L288.60,381.42 L289.60,381.68 L290.60,381.94 L291.60,382.22 L292.60,382.51 L293.60,382.81 L294.60,383.12 L295.60,383.44 L296.60,383.77 L297.60,384.12 L298.60,384.48 L299.60,384.85 L300.60,385.23 L301.60,385.62 L302.60,386.03 L303.60,386.45 L304.60,386.87 L305.60,387.31 L306.60,387.76 L307.60,388.22 L308.60,388.68 L309.60,389.15 L310.60,389.63 L311.60,390.11 L312.60,390.60 L313.60,391.10 L314.60,391.60 L315.60,392.10 L316.60,392.60 L317.60,393.11 L318.60,393.62 L319.60,394.13 L320.60,394.64 L321.60,395.15 L322.60,395.65 L323.60,396.16 L324.60,396.66 L325.60,397.16 L326.60,397.66 L327.60,398.15 L328.60,398.64 L329.60,399.12 L330.60,399.59 L331.60,400.06 L332.60,400.52 L333.60,400.97 L333.90,401.10" fill="none" stroke="#3366FF" stroke-width="1.6" stroke-linecap="butt" stroke-linejoin="round"/><path d="M24.60,323.00 V405.80 H338.80" fill="none" stroke="#444444" stroke-width="1.07"/><path d="M22.80,405.80H24.60M22.80,389.32H24.60M22.80,372.84H24.60M22.80,356.36H24.60M22.80,339.88H24.60M22.80,323.40H24.60M29.40,405.80V407.60M45.02,405.80V407.60M60.64,405.80V407.60M76.26,405.80V407.60M91.88,405.80V407.60M107.50,405.80V407.60M123.12,405.80V407.60M138.74,405.80V407.60M154.36,405.80V407.60M169.98,405.80V407.60M185.60,405.80V407.60M201.22,405.80V407.60M216.84,405.80V407.60M232.46,405.80V407.60M248.08,405.80V407.60M263.70,405.80V407.60M279.32,405.80V407.60M294.94,405.80V407.60M310.56,405.80V407.60M326.18,405.80V407.60" stroke="#444444" stroke-width="1.07" fill="none"/><g font-size="10" fill="#1a1a1a" stroke="#1a1a1a" stroke-width="0.1" text-anchor="end"><text x="21.40" y="409.90">0</text><text x="21.40" y="393.42">10</text><text x="21.40" y="376.94">20</text><text x="21.40" y="360.46">30</text><text x="21.40" y="343.98">40</text><text x="21.40" y="327.50">50</text></g><g font-size="10" fill="#1a1a1a" stroke="#1a1a1a" stroke-width="0.1" text-anchor="end"><text transform="translate(34.60,414.50) rotate(-45)">2022-01</text><text transform="translate(50.22,414.50) rotate(-45)">2022-03</text><text transform="translate(65.84,414.50) rotate(-45)">2022-05</text><text transform="translate(81.46,414.50) rotate(-45)">2022-07</text><text transform="translate(97.08,414.50) rotate(-45)">2022-09</text><text transform="translate(112.70,414.50) rotate(-45)">2022-11</text><text transform="translate(128.32,414.50) rotate(-45)">2023-01</text><text transform="translate(143.94,414.50) rotate(-45)">2023-03</text><text transform="translate(159.56,414.50) rotate(-45)">2023-05</text><text transform="translate(175.18,414.50) rotate(-45)">2023-07</text><text transform="translate(190.80,414.50) rotate(-45)">2023-09</text><text transform="translate(206.42,414.50) rotate(-45)">2023-11</text><text transform="translate(222.04,414.50) rotate(-45)">2024-01</text><text transform="translate(237.66,414.50) rotate(-45)">2024-03</text><text transform="translate(253.28,414.50) rotate(-45)">2024-05</text><text transform="translate(268.90,414.50) rotate(-45)">2024-07</text><text transform="translate(284.52,414.50) rotate(-45)">2024-09</text><text transform="translate(300.14,414.50) rotate(-45)">2024-11</text><text transform="translate(315.76,414.50) rotate(-45)">2025-01</text><text transform="translate(331.38,414.50) rotate(-45)">2025-03</text></g><text x="181.70" y="450.60" font-size="10" fill="#1a1a1a" stroke="#1a1a1a" stroke-width="0.1" text-anchor="middle">Year-Month</text><text transform="translate(8.00,363.90) rotate(-90)" font-size="10" fill="#1a1a1a" stroke="#1a1a1a" stroke-width="0.1" text-anchor="middle">Number of cases</text><text x="25.20" y="316.90" font-size="15" font-weight="bold" fill="#000">E</text><g fill="#FDC896" stroke="#ffffff" stroke-width="0.3"><rect x="379.78" y="395.53" width="7.26" height="10.28"/><rect x="387.58" y="356.48" width="7.26" height="49.32"/><rect x="395.39" y="366.75" width="7.26" height="39.05"/><rect x="403.19" y="389.36" width="7.26" height="16.44"/><rect x="418.80" y="383.19" width="7.26" height="22.61"/><rect x="426.61" y="399.63" width="7.26" height="6.17"/><rect x="434.41" y="381.14" width="7.26" height="24.66"/><rect x="442.22" y="377.03" width="7.26" height="28.77"/><rect x="450.02" y="379.09" width="7.26" height="26.72"/><rect x="457.83" y="362.64" width="7.26" height="43.16"/><rect x="465.63" y="370.87" width="7.26" height="34.94"/><rect x="473.44" y="379.09" width="7.26" height="26.72"/><rect x="481.24" y="393.47" width="7.26" height="12.33"/><rect x="489.05" y="395.53" width="7.26" height="10.28"/><rect x="496.85" y="403.75" width="7.26" height="2.06"/><rect x="504.66" y="397.58" width="7.26" height="8.22"/><rect x="512.46" y="389.36" width="7.26" height="16.44"/><rect x="520.27" y="354.43" width="7.26" height="51.38"/><rect x="528.07" y="403.75" width="7.26" height="2.06"/><rect x="535.88" y="399.63" width="7.26" height="6.17"/><rect x="543.68" y="391.42" width="7.26" height="14.39"/><rect x="551.49" y="379.09" width="7.26" height="26.72"/><rect x="559.29" y="360.59" width="7.26" height="45.21"/><rect x="567.10" y="377.03" width="7.26" height="28.77"/><rect x="574.90" y="344.15" width="7.26" height="61.65"/><rect x="582.71" y="379.09" width="7.26" height="26.72"/><rect x="590.51" y="401.69" width="7.26" height="4.11"/><rect x="606.12" y="401.69" width="7.26" height="4.11"/><rect x="613.93" y="403.75" width="7.26" height="2.06"/><rect x="629.54" y="399.63" width="7.26" height="6.17"/><rect x="637.34" y="383.19" width="7.26" height="22.61"/><rect x="645.15" y="389.36" width="7.26" height="16.44"/><rect x="660.76" y="401.69" width="7.26" height="4.11"/></g><path d="M375.30,386.80 L376.30,386.57 L377.30,386.34 L378.30,386.13 L379.30,385.92 L380.30,385.72 L381.30,385.53 L382.30,385.35 L383.30,385.17 L384.30,385.00 L385.30,384.83 L386.30,384.68 L387.30,384.53 L388.30,384.38 L389.30,384.24 L390.30,384.11 L391.30,383.99 L392.30,383.87 L393.30,383.76 L394.30,383.65 L395.30,383.55 L396.30,383.45 L397.30,383.36 L398.30,383.27 L399.30,383.19 L400.30,383.12 L401.30,383.04 L402.30,382.98 L403.30,382.92 L404.30,382.86 L405.30,382.81 L406.30,382.76 L407.30,382.71 L408.30,382.67 L409.30,382.64 L410.30,382.60 L411.30,382.57 L412.30,382.55 L413.30,382.52 L414.30,382.50 L415.30,382.49 L416.30,382.47 L417.30,382.46 L418.30,382.46 L419.30,382.45 L420.30,382.45 L421.30,382.45 L422.30,382.45 L423.30,382.45 L424.30,382.46 L425.30,382.46 L426.30,382.47 L427.30,382.48 L428.30,382.49 L429.30,382.51 L430.30,382.52 L431.30,382.54 L432.30,382.55 L433.30,382.57 L434.30,382.59 L435.30,382.60 L436.30,382.62 L437.30,382.64 L438.30,382.66 L439.30,382.68 L440.30,382.70 L441.30,382.73 L442.30,382.75 L443.30,382.78 L444.30,382.81 L445.30,382.84 L446.30,382.87 L447.30,382.91 L448.30,382.95 L449.30,382.99 L450.30,383.03 L451.30,383.08 L452.30,383.14 L453.30,383.19 L454.30,383.26 L455.30,383.32 L456.30,383.39 L457.30,383.47 L458.30,383.55 L459.30,383.64 L460.30,383.73 L461.30,383.83 L462.30,383.93 L463.30,384.04 L464.30,384.16 L465.30,384.27 L466.30,384.39 L467.30,384.51 L468.30,384.64 L469.30,384.77 L470.30,384.89 L471.30,385.02 L472.30,385.15 L473.30,385.28 L474.30,385.41 L475.30,385.54 L476.30,385.66 L477.30,385.79 L478.30,385.91 L479.30,386.03 L480.30,386.14 L481.30,386.25 L482.30,386.36 L483.30,386.46 L484.30,386.55 L485.30,386.64 L486.30,386.72 L487.30,386.80 L488.30,386.87 L489.30,386.93 L490.30,386.98 L491.30,387.02 L492.30,387.05 L493.30,387.07 L494.30,387.09 L495.30,387.09 L496.30,387.08 L497.30,387.07 L498.30,387.05 L499.30,387.01 L500.30,386.98 L501.30,386.93 L502.30,386.88 L503.30,386.83 L504.30,386.76 L505.30,386.70 L506.30,386.63 L507.30,386.56 L508.30,386.48 L509.30,386.40 L510.30,386.32 L511.30,386.24 L512.30,386.16 L513.30,386.08 L514.30,385.99 L515.30,385.91 L516.30,385.83 L517.30,385.75 L518.30,385.68 L519.30,385.61 L520.30,385.54 L521.30,385.47 L522.30,385.41 L523.30,385.35 L524.30,385.29 L525.30,385.23 L526.30,385.18 L527.30,385.12 L528.30,385.06 L529.30,384.99 L530.30,384.92 L531.30,384.85 L532.30,384.77 L533.30,384.68 L534.30,384.58 L535.30,384.48 L536.30,384.36 L537.30,384.24 L538.30,384.11 L539.30,383.98 L540.30,383.85 L541.30,383.71 L542.30,383.56 L543.30,383.42 L544.30,383.27 L545.30,383.12 L546.30,382.97 L547.30,382.82 L548.30,382.68 L549.30,382.53 L550.30,382.39 L551.30,382.25 L552.30,382.12 L553.30,381.99 L554.30,381.87 L555.30,381.76 L556.30,381.65 L557.30,381.55 L558.30,381.46 L559.30,381.38 L560.30,381.32 L561.30,381.26 L562.30,381.21 L563.30,381.18 L564.30,381.16 L565.30,381.16 L566.30,381.17 L567.30,381.20 L568.30,381.25 L569.30,381.31 L570.30,381.38 L571.30,381.47 L572.30,381.57 L573.30,381.69 L574.30,381.82 L575.30,381.96 L576.30,382.12 L577.30,382.28 L578.30,382.46 L579.30,382.64 L580.30,382.84 L581.30,383.04 L582.30,383.25 L583.30,383.47 L584.30,383.69 L585.30,383.93 L586.30,384.16 L587.30,384.41 L588.30,384.65 L589.30,384.90 L590.30,385.16 L591.30,385.41 L592.30,385.67 L593.30,385.93 L594.30,386.19 L595.30,386.45 L596.30,386.71 L597.30,386.97 L598.30,387.23 L599.30,387.49 L600.30,387.74 L601.30,387.99 L602.30,388.24 L603.30,388.49 L604.30,388.74 L605.30,388.99 L606.30,389.23 L607.30,389.48 L608.30,389.72 L609.30,389.96 L610.30,390.20 L611.30,390.44 L612.30,390.68 L613.30,390.92 L614.30,391.17 L615.30,391.41 L616.30,391.65 L617.30,391.89 L618.30,392.13 L619.30,392.37 L620.30,392.62 L621.30,392.86 L622.30,393.11 L623.30,393.35 L624.30,393.60 L625.30,393.85 L626.30,394.10 L627.30,394.35 L628.30,394.61 L629.30,394.87 L630.30,395.12 L631.30,395.39 L632.30,395.65 L633.30,395.92 L634.30,396.19 L635.30,396.46 L636.30,396.73 L637.30,397.01 L638.30,397.29 L639.30,397.57 L640.30,397.86 L641.30,398.14 L642.30,398.43 L643.30,398.71 L644.30,398.99 L645.30,399.28 L646.30,399.56 L647.30,399.84 L648.30,400.12 L649.30,400.40 L650.30,400.68 L651.30,400.95 L652.30,401.22 L653.30,401.49 L654.30,401.75 L655.30,402.01 L656.30,402.26 L657.30,402.51 L658.30,402.75 L659.30,402.99 L660.30,403.22 L661.30,403.44 L662.30,403.66 L663.30,403.86 L664.30,404.07 L665.30,404.26 L666.30,404.44 L667.30,404.62 L668.30,404.78" fill="none" stroke="#3366FF" stroke-width="1.6" stroke-linecap="butt" stroke-linejoin="round"/><path d="M370.55,323.00 V405.80 H686.00" fill="none" stroke="#444444" stroke-width="1.07"/><path d="M368.75,405.80H370.55M368.75,385.25H370.55M368.75,364.70H370.55M368.75,344.15H370.55M368.75,323.60H370.55M375.60,405.80V407.60M391.21,405.80V407.60M406.82,405.80V407.60M422.43,405.80V407.60M438.04,405.80V407.60M453.65,405.80V407.60M469.26,405.80V407.60M484.87,405.80V407.60M500.48,405.80V407.60M516.09,405.80V407.60M531.70,405.80V407.60M547.31,405.80V407.60M562.92,405.80V407.60M578.53,405.80V407.60M594.14,405.80V407.60M609.75,405.80V407.60M625.36,405.80V407.60M640.97,405.80V407.60M656.58,405.80V407.60M672.19,405.80V407.60" stroke="#444444" stroke-width="1.07" fill="none"/><g font-size="10" fill="#1a1a1a" stroke="#1a1a1a" stroke-width="0.1" text-anchor="end"><text x="367.35" y="409.90">0</text><text x="367.35" y="389.35">10</text><text x="367.35" y="368.80">20</text><text x="367.35" y="348.25">30</text><text x="367.35" y="327.70">40</text></g><g font-size="10" fill="#1a1a1a" stroke="#1a1a1a" stroke-width="0.1" text-anchor="end"><text transform="translate(380.80,414.50) rotate(-45)">2022-01</text><text transform="translate(396.41,414.50) rotate(-45)">2022-03</text><text transform="translate(412.02,414.50) rotate(-45)">2022-05</text><text transform="translate(427.63,414.50) rotate(-45)">2022-07</text><text transform="translate(443.24,414.50) rotate(-45)">2022-09</text><text transform="translate(458.85,414.50) rotate(-45)">2022-11</text><text transform="translate(474.46,414.50) rotate(-45)">2023-01</text><text transform="translate(490.07,414.50) rotate(-45)">2023-03</text><text transform="translate(505.68,414.50) rotate(-45)">2023-05</text><text transform="translate(521.29,414.50) rotate(-45)">2023-07</text><text transform="translate(536.90,414.50) rotate(-45)">2023-09</text><text transform="translate(552.51,414.50) rotate(-45)">2023-11</text><text transform="translate(568.12,414.50) rotate(-45)">2024-01</text><text transform="translate(583.73,414.50) rotate(-45)">2024-03</text><text transform="translate(599.34,414.50) rotate(-45)">2024-05</text><text transform="translate(614.95,414.50) rotate(-45)">2024-07</text><text transform="translate(630.56,414.50) rotate(-45)">2024-09</text><text transform="translate(646.17,414.50) rotate(-45)">2024-11</text><text transform="translate(661.78,414.50) rotate(-45)">2025-01</text><text transform="translate(677.39,414.50) rotate(-45)">2025-03</text></g><text x="527.77" y="450.60" font-size="10" fill="#1a1a1a" stroke="#1a1a1a" stroke-width="0.1" text-anchor="middle">Year-Month</text><text transform="translate(353.50,363.90) rotate(-90)" font-size="10" fill="#1a1a1a" stroke="#1a1a1a" stroke-width="0.1" text-anchor="middle">Number of cases</text><text x="371.15" y="316.90" font-size="15" font-weight="bold" fill="#000">F</text></svg></body></html>
